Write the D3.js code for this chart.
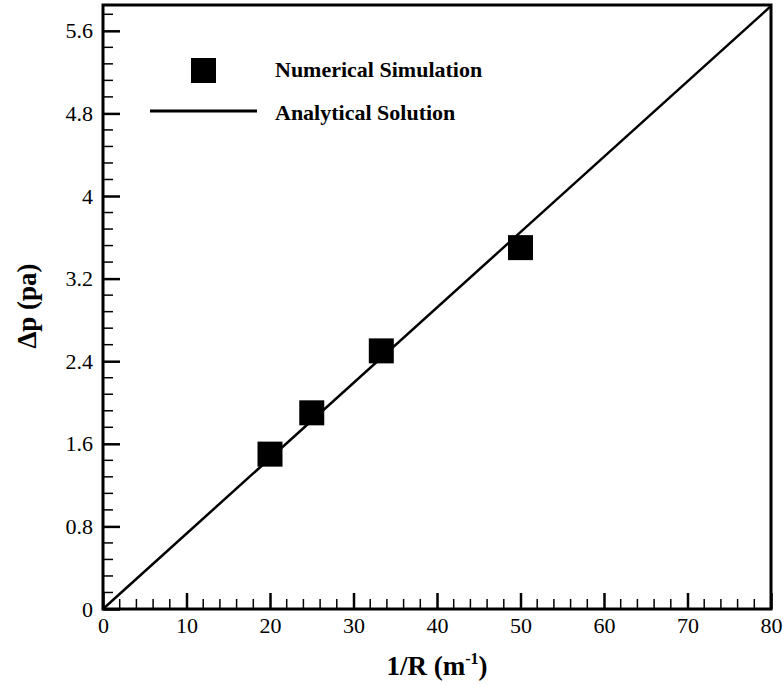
<!DOCTYPE html>
<html>
<head>
<meta charset="utf-8">
<script src="https://cdn.jsdelivr.net/npm/d3@7"></script>
<style>
  body { margin: 0; background: #fff; }
</style>
</head>
<body>
<svg width="783" height="686"></svg>
<script>
// numerical simulation points
const invR = [20, 25, 33.33, 50];
const dpSim = [1.5, 1.9, 2.5, 3.5];

// analytical solution, dp = sigma / R
const lineX = [0, 80];
const lineY = [0, 5.84];

const xTicks = [0, 10, 20, 30, 40, 50, 60, 70, 80];
const yTicks = [0, 0.8, 1.6, 2.4, 3.2, 4, 4.8, 5.6];

const legendLabels = ["Numerical Simulation", "Analytical Solution"];

const margin = {top: 5, right: 12, bottom: 77, left: 103};
const width = 783 - margin.left - margin.right;
const height = 686 - margin.top - margin.bottom;

const svg = d3.select("svg");
const g = svg.append("g").attr("transform", `translate(${margin.left},${margin.top})`);

const x = d3.scaleLinear().domain([0, 80]).range([0, width]);
const y = d3.scaleLinear().domain([0, 5.85]).range([height, 0]);

// minor ticks
const xMinor = d3.range(0, 80.01, 2).filter(v => v % 10 != 0);
const yMinor = d3.range(0, 5.85, 0.16).filter(v => Math.abs(v / 0.8 - Math.round(v / 0.8)) > 0.01);

g.selectAll(".xminor").data(xMinor).enter().append("line")
  .attr("x1", d => x(d)).attr("x2", d => x(d))
  .attr("y1", height).attr("y2", height - 10)
  .attr("stroke", "#000").attr("stroke-width", 1.5);

g.selectAll(".yminor").data(yMinor).enter().append("line")
  .attr("x1", 0).attr("x2", 10)
  .attr("y1", d => y(d)).attr("y2", d => y(d))
  .attr("stroke", "#000").attr("stroke-width", 1.5);

const xAxis = g.append("g")
  .attr("transform", `translate(0,${height})`)
  .call(d3.axisBottom(x).tickValues(xTicks).tickSizeInner(-16).tickSizeOuter(0).tickPadding(8).tickFormat(d3.format("d")));

const yAxis = g.append("g")
  .call(d3.axisLeft(y).tickValues(yTicks).tickSizeInner(-17).tickSizeOuter(0).tickPadding(10).tickFormat(d => d === 0 ? "0" : d3.format("~g")(d)));

[xAxis, yAxis].forEach(a => {
  a.attr("font-size", 22);
  a.select(".domain").remove();
  a.selectAll(".tick line").attr("stroke-width", 2.5);
});

// frame
g.append("rect")
  .attr("width", width).attr("height", height)
  .attr("fill", "none").attr("stroke", "#000").attr("stroke-width", 3);

// analytical line
g.append("path")
  .datum(lineX.map((d, i) => [d, lineY[i]]))
  .attr("d", d3.line().x(d => x(d[0])).y(d => y(d[1])))
  .attr("fill", "none").attr("stroke", "#000").attr("stroke-width", 2.5);

// simulation squares
const s = 25;
g.selectAll(".pt").data(invR).enter().append("rect")
  .attr("x", d => x(d) - s / 2)
  .attr("y", (d, i) => y(dpSim[i]) - s / 2)
  .attr("width", s).attr("height", s)
  .attr("fill", "#000");

// legend
const leg = svg.append("g");
leg.append("rect").attr("x", 191).attr("y", 58).attr("width", s).attr("height", s).attr("fill", "#000");
leg.append("line").attr("x1", 150).attr("x2", 257).attr("y1", 111).attr("y2", 111)
  .attr("stroke", "#000").attr("stroke-width", 3);
leg.selectAll("text").data(legendLabels).enter().append("text")
  .attr("x", 275).attr("y", (d, i) => 77 + i * 43)
  .style("font-size", "22px").style("font-weight", "bold")
  .text(d => d);

// axis titles
const xt = svg.append("text")
  .attr("x", margin.left + width / 2).attr("y", 675)
  .attr("text-anchor", "middle")
  .style("font-size", "27px").style("font-weight", "bold");
xt.append("tspan").text("1/R (m");
xt.append("tspan").attr("dy", -11).style("font-size", "16px").text("-1");
xt.append("tspan").attr("dy", 11).text(")");

svg.append("text")
  .attr("transform", "translate(36,306) rotate(-90)")
  .attr("text-anchor", "middle")
  .style("font-size", "27px").style("font-weight", "bold")
  .text("Δp (pa)");

// serif everywhere
svg.selectAll("text")
  .attr("font-family", "Liberation Serif")
  .style("font-family", "'Liberation Serif'")
  .attr("fill", "#000");
</script>
</body>
</html>
